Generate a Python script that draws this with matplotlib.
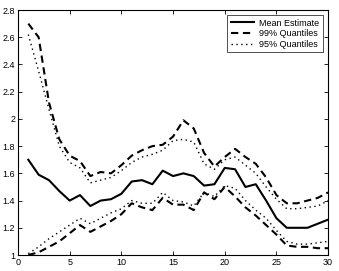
import matplotlib
matplotlib.use("Agg")
import matplotlib.pyplot as plt
import numpy as np

plt.rcParams['font.family'] = ['Liberation Sans', 'DejaVu Sans']

# horizon (x axis)
horizon = np.arange(1, 31)

# mean estimate
mean_est = [1.70, 1.59, 1.55, 1.47, 1.40, 1.44, 1.36, 1.40, 1.41, 1.45,
            1.54, 1.55, 1.52, 1.62, 1.58, 1.60, 1.58, 1.51, 1.52, 1.64,
            1.63, 1.50, 1.52, 1.40, 1.27, 1.20, 1.20, 1.20, 1.23, 1.26]

# 99% quantiles (upper / lower)
q99_hi = [2.70, 2.60, 2.12, 1.85, 1.73, 1.69, 1.58, 1.61, 1.60, 1.66,
          1.73, 1.77, 1.80, 1.81, 1.87, 1.99, 1.93, 1.75, 1.65, 1.72,
          1.78, 1.72, 1.67, 1.57, 1.44, 1.38, 1.38, 1.40, 1.42, 1.46]
q99_lo = [1.00, 1.02, 1.06, 1.10, 1.16, 1.22, 1.17, 1.21, 1.25, 1.30,
          1.38, 1.35, 1.33, 1.42, 1.37, 1.37, 1.33, 1.46, 1.41, 1.50,
          1.43, 1.35, 1.29, 1.22, 1.15, 1.07, 1.06, 1.06, 1.05, 1.05]

# 95% quantiles (upper / lower)
q95_hi = [2.62, 2.35, 2.07, 1.80, 1.68, 1.64, 1.53, 1.55, 1.57, 1.62,
          1.68, 1.72, 1.74, 1.77, 1.84, 1.85, 1.83, 1.67, 1.63, 1.70,
          1.72, 1.66, 1.60, 1.50, 1.41, 1.34, 1.34, 1.35, 1.36, 1.40]
q95_lo = [1.01, 1.06, 1.12, 1.17, 1.22, 1.27, 1.23, 1.27, 1.31, 1.34,
          1.40, 1.38, 1.38, 1.46, 1.40, 1.39, 1.36, 1.46, 1.43, 1.51,
          1.49, 1.40, 1.33, 1.27, 1.18, 1.10, 1.08, 1.08, 1.09, 1.10]

fig = plt.figure(figsize=(3.39, 2.71), dpi=100)
ax = fig.add_axes([0.053, 0.059, 0.915, 0.904])

ax.plot(horizon, mean_est, color='black', lw=1.5, label='Mean Estimate')
ax.plot(horizon, q99_hi, color='black', lw=1.5, dashes=(3.5, 2.2), label='99% Quantiles')
ax.plot(horizon, q95_hi, color='black', lw=1.0, dashes=(1, 2.5), label='95% Quantiles')
ax.plot(horizon, q99_lo, color='black', lw=1.5, dashes=(3.5, 2.2))
ax.plot(horizon, q95_lo, color='black', lw=1.0, dashes=(1, 2.5))

ax.set_xlim(0, 30)
ax.set_ylim(1, 2.8)
ax.set_xticks(np.arange(0, 31, 5))
yt = np.arange(1, 2.81, 0.2)
ax.set_yticks(yt)
ax.set_yticklabels(['%g' % round(v, 1) for v in yt])
ax.tick_params(direction='in', top=True, right=True, labelsize=6.5,
               length=3, width=0.6, pad=2)
for s in ax.spines.values():
    s.set_linewidth(0.8)

leg = ax.legend(loc='upper right', fontsize=6.5, frameon=True, fancybox=False,
                edgecolor='black', handlelength=2.6, handletextpad=0.6,
                borderpad=0.35, labelspacing=0.2, borderaxespad=0.6,
                markerfirst=True)
leg.get_frame().set_linewidth(0.6)

fig.savefig('out.png', dpi=100)
